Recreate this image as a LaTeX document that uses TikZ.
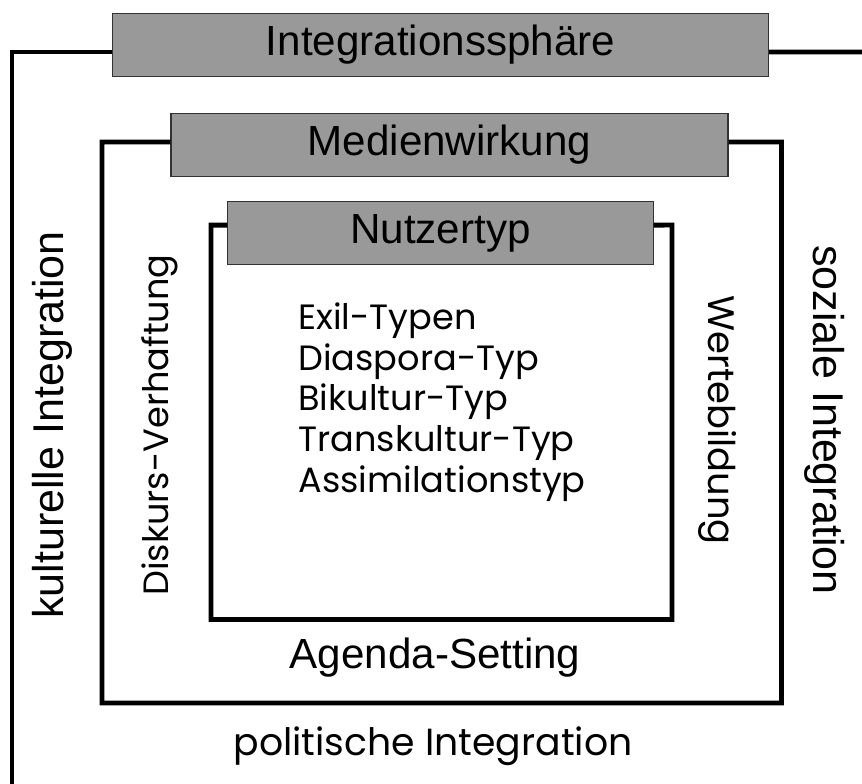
\documentclass[tikz,border=0pt]{standalone}
\usepackage{fontspec}
\setmainfont{Liberation Sans}
\newfontfamily\geofont{Poppins}
\usetikzlibrary{positioning}

\begin{document}
\begin{tikzpicture}[
        x=0.02cm, y=-0.02cm,
        header/.style={
            rectangle, draw=black!80, fill=black!40, line width=0.6pt,
            minimum height=36pt, inner sep=0pt, font=\fontsize{24}{28}\selectfont
        },
        frame/.style={line width=2.8pt, line join=miter},
        arial/.style={inner sep=0pt, font=\fontsize{24.5}{28}\selectfont},
        geo/.style={inner sep=0pt, font=\geofont\fontsize{20}{23.2}\selectfont}
    ]
        \useasboundingbox (0,0) rectangle (862,784);

        % Header boxes
        \node[header, minimum width=373.6pt] (sphaere) at (440.5,45) {Integrationssphäre};
        \node[header, minimum width=317pt] (medien) at (449.5,145) {Medienwirkung};
        \node[header, minimum width=242pt] (nutzer) at (440.5,233) {Nutzertyp};

        % Frames
        \coordinate (outerbl) at (12,784);
        \coordinate (outerr) at (862,52);
        \coordinate (midbl) at (102,703);
        \coordinate (midtr) at (781.5,142);
        \coordinate (innbl) at (211,619.5);
        \coordinate (inntr) at (672,225);
        \draw[frame] ([yshift=-4pt]sphaere.west) -| (outerbl);
        \draw[frame] ([yshift=-4pt]sphaere.east) -- (outerr);
        \draw[frame] ([yshift=1.7pt]medien.west) -| (midbl) -| (midtr) -- ([yshift=1.7pt]medien.east);
        \draw[frame] ([yshift=4.5pt]nutzer.west) -| (innbl) -| (inntr) -- ([yshift=4.5pt]nutzer.east);

        % Side labels
        \node[arial, rotate=90] (kultur) at (52,425) {kulturelle Integration};
        \node[arial, rotate=-90] (sozial) at (825,420) {soziale Integration};
        \node[geo, rotate=90] (diskurs) at (160,425) {Diskurs-Verhaftung};
        \node[geo, rotate=-90, font=\geofont\fontsize{21}{25}\selectfont] (werte) at (718,420) {Wertebildung};

        % Bottom labels
        \node[arial, font=\fontsize{24}{28}\selectfont] (agenda) at (435,658) {Agenda-Setting};
        \node[geo, font=\geofont\fontsize{21.5}{26}\selectfont] (politik) at (433,746) {politische Integration};

        % Types
        \node[geo, anchor=west, align=left] (typen) at (298,402)
            {Exil-Typen\\Diaspora-Typ\\Bikultur-Typ\\Transkultur-Typ\\Assimilationstyp};
    \end{tikzpicture}
\end{document}
